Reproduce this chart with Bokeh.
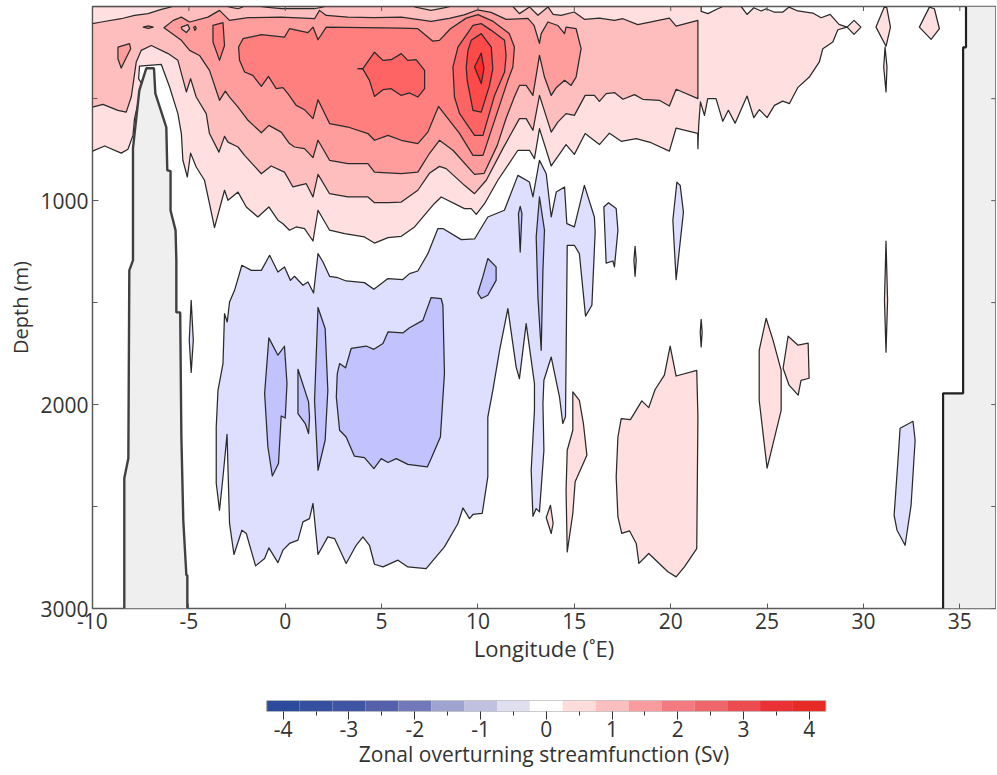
from bokeh.plotting import figure
from bokeh.layouts import column
from bokeh.models import Range1d, FixedTicker, Title
from bokeh.embed import file_html
from bokeh.resources import INLINE

# Contours of the zonal overturning streamfunction: (longitude E, depth m)
pos1_main = [(-10,48),(21.58,48),(21.58,72),(21.93,83),(22.44,59),(22.72,48),(23.65,48),(23.96,87),(24.31,54),(24.69,70),(24.95,59),(25.36,75),(25.82,75),(26.14,51),(26.59,70),(27.37,80),(27.80,103),(28.27,87),(28.73,136),(29.15,149),(28.67,162),(28.41,222),(27.89,255),(27.71,320),(27.19,394),(26.59,446),(26.16,524),(25.81,512),(25.38,533),(25.0,593),(24.60,554),(24.31,593),(23.96,487),(23.34,620),(22.99,557),(22.70,611),(22.35,500),(21.92,500),(21.75,582),(21.54,516),(21.45,631),(21.41,745),(21.40,670),(20.28,644),(19.93,757),(18.98,716),(18.21,696),(17.43,709),(16.82,669),(16.30,725),(15.56,671),(15.0,773),(14.57,725),(13.80,830),(13.19,647),(12.93,794),(12.67,753),(12.07,753),(11.03,900),(10.34,1015),(9.91,1067),(9.65,1039),(9.30,1039),(8.09,982),(7.73,1015),(6.71,1129),(6.02,1175),(5.33,1181),(4.63,1208),(4.11,1178),(3.08,1162),(2.30,1145),(1.70,1047),(1.44,1198),(1.0,1137),(0.57,1129),(0.22,1145),(-0.12,1113),(-0.38,1096),(-0.85,1031),(-1.42,1080),(-2.02,1031),(-2.45,958),(-2.97,998),(-3.15,949),(-3.67,1132),(-3.93,1015),(-4.19,900),(-4.62,835),(-4.91,767),(-5.08,884),(-5.31,802),(-5.39,671),(-5.57,573),(-6.0,443),(-6.43,332),(-7.56,340),(-7.61,402),(-7.42,430),(-7.82,598),(-7.90,680),(-8.16,748),(-8.51,767),(-9.37,732),(-10,757)]
pos1_diamond = [(29.15,149),(29.51,116),(29.87,149),(29.51,185)]
pos1_spike_a = [(31.08,51),(30.65,149),(31.17,243),(31.40,149),(31.21,54)]
pos1_spike_b = [(31.12,247),(31.05,345),(31.17,467),(31.22,345)]
pos1_top_e = [(33.42,51),(32.90,149),(33.51,209),(33.94,157),(33.68,59)]
pos1_deep_e = [(31.17,1199),(31.09,1489),(31.17,1743),(31.25,1489)]
pos1_m = [(14.92,1938),(15.15,1966),(15.26,1979),(15.47,2093),(15.65,2248),(15.04,2379),(14.92,2534),(14.63,2722),(14.57,2420),(14.63,2224),(14.92,2126)]
pos1_n = [(17.43,2069),(17.91,2074),(18.50,1982),(18.86,2015),(19.19,1926),(19.67,1856),(19.97,1713),(20.28,1860),(21.35,1832),(21.41,2061),(21.35,2706),(20.71,2796),(20.28,2845),(19.85,2820),(18.86,2730),(18.35,2779),(18.21,2681),(17.86,2619),(17.46,2632),(17.26,2551),(17.17,2355),(17.26,2159)]
pos1_o = [(13.76,2494),(13.90,2582),(13.80,2632),(13.54,2554)]
pos1_p = [(24.95,1577),(25.31,1685),(25.73,1832),(25.73,2028),(25.0,2312),(24.59,1979),(24.59,1734)]
pos1_q = [(26.09,1665),(26.61,1709),(27.13,1699),(27.18,1871),(26.76,1881),(26.61,1954),(26.14,1905),(25.83,1822)]

pos2_main = [(-10,132),(-9.54,124),(-8.51,108),(-7.82,92),(-7.12,83),(-6.43,62),(-5.81,48),(-3.06,48),(-2.45,59),(-2.13,48),(-1.42,48),(-0.21,59),(1.50,59),(2.13,48),(6.59,48),(7.57,67),(8.61,48),(11.81,48),(12.15,83),(12.67,50),(13.11,91),(13.63,50),(13.90,87),(14.31,92),(14.99,75),(15.52,111),(16.30,105),(17.08,116),(17.52,108),(18.29,137),(19.93,105),(20.28,144),(21.41,116),(21.41,500),(20.28,454),(19.93,536),(19.41,508),(18.55,503),(18.12,480),(17.52,503),(17.08,470),(16.65,475),(16.30,513),(16.04,484),(15.56,484),(15.0,582),(14.57,573),(14.14,615),(13.80,664),(13.19,484),(12.85,655),(12.50,598),(12.15,598),(11.29,745),(10.43,900),(9.82,966),(9.30,925),(8.35,843),(8.0,832),(7.48,866),(6.88,949),(6.02,1007),(5.33,1010),(4.63,1010),(4.29,982),(3.25,982),(2.30,966),(1.70,871),(1.44,982),(1.09,917),(0.40,933),(-0.04,860),(-0.73,830),(-1.24,868),(-2.11,778),(-2.45,737),(-2.97,713),(-3.15,685),(-3.44,762),(-3.93,671),(-4.10,573),(-4.62,492),(-4.91,402),(-5.13,467),(-5.57,312),(-6.08,279),(-6.95,239),(-7.47,263),(-7.73,320),(-7.99,492),(-8.25,566),(-8.68,557),(-9.46,528),(-10,541)]

pos3_main = [(-6.29,152),(-5.81,116),(-5.39,100),(-4.96,124),(-4.01,100),(-3.41,67),(-2.89,116),(-1.93,103),(-0.21,100),(1.52,108),(1.78,67),(2.13,92),(3.25,100),(4.62,103),(6.02,100),(7.57,121),(8.51,106),(9.28,89),(9.96,65),(10.68,77),(11.46,111),(12.59,106),(12.91,141),(13.19,229),(13.28,181),(13.63,124),(14.14,141),(14.49,181),(14.57,149),(15.09,157),(15.35,255),(15.09,394),(14.83,435),(14.49,410),(14.06,446),(13.80,484),(13.45,394),(13.19,288),(12.85,484),(12.50,435),(12.15,435),(11.88,493),(11.46,596),(11.0,729),(10.32,866),(9.82,871),(8.70,753),(8.0,704),(7.48,769),(6.88,860),(6.02,868),(4.63,860),(4.29,818),(3.25,818),(2.30,802),(1.70,704),(1.44,789),(1.0,745),(0.48,737),(0.22,720),(-0.21,664),(-0.85,631),(-1.24,667),(-1.93,606),(-2.45,541),(-2.89,492),(-3.11,463),(-3.41,508),(-3.93,361),(-4.45,288),(-4.96,263),(-5.39,214)]
pos3_west = [(-8.68,247),(-8.08,230),(-8.02,255),(-8.51,350),(-8.68,304)]
pos3_dash = [(-7.37,149),(-7.11,143),(-6.85,149),(-7.11,155)]
pos2_ring = [(-5.39,149),(-5.05,137),(-4.96,157),(-5.13,176),(-5.36,160)]
pos2_dot = [(-4.75,150),(-4.67,145),(-4.62,155),(-4.69,165)]

pos4_main = [(-2.42,247),(-2.19,206),(-1.24,186),(-0.04,198),(0.22,157),(1.18,176),(1.44,149),(1.70,211),(2.13,149),(6.02,154),(6.88,157),(7.66,218),(8.0,214),(8.57,157),(9.39,105),(10.0,88),(10.79,121),(11.62,180),(11.89,247),(11.81,345),(11.55,410),(10.26,778),(9.74,778),(9.04,670),(7.95,538),(7.40,664),(6.88,720),(6.02,704),(5.33,680),(4.63,704),(4.29,671),(3.25,639),(2.30,622),(1.70,505),(1.44,598),(1.0,554),(0.57,533),(0.14,475),(-0.12,446),(-0.47,451),(-0.87,391),(-1.24,440),(-1.68,386),(-2.11,369),(-2.37,312)]
pos4_west = [(-3.75,141),(-3.23,127),(-3.15,239),(-3.41,312),(-3.75,222)]

pos5_blob = [(3.77,353),(4.03,353),(4.63,272),(5.07,312),(5.50,309),(6.02,279),(6.36,312),(6.79,309),(7.23,361),(7.23,451),(6.88,492),(6.45,472),(6.02,484),(5.50,451),(5.07,456),(4.63,489),(4.37,410),(4.03,355)]
pos5_core = [(9.74,141),(10.17,132),(10.69,165),(11.38,214),(11.46,288),(11.38,369),(10.86,484),(10.26,680),(9.82,680),(9.04,572),(8.78,492),(8.70,345),(8.96,247)]
pos6_core = [(9.65,214),(10.17,181),(10.69,247),(10.77,353),(10.60,435),(10.17,566),(9.74,557),(9.44,410),(9.39,345),(9.48,263)]
pos7_core = [(10.17,276),(10.31,353),(10.17,426),(9.82,345)]

neg1_main = [(-3.41,2518),(-3.58,2386),(-3.58,2110),(-3.49,1930),(-3.23,1799),(-3.15,1554),(-3.01,1595),(-2.89,1497),(-2.63,1440),(-2.25,1317),(-1.76,1342),(-1.24,1342),(-0.81,1268),(-0.38,1350),(-0.04,1325),(0.27,1391),(0.48,1371),(0.92,1415),(1.18,1399),(1.47,1453),(1.70,1260),(1.96,1301),(2.30,1371),(2.73,1378),(3.16,1394),(4.11,1402),(4.60,1435),(5.33,1382),(6.10,1387),(6.45,1358),(6.88,1345),(7.40,1260),(7.92,1137),(8.18,1137),(9.13,1191),(9.82,1188),(10.51,1080),(11.37,1047),(12.07,876),(12.67,909),(12.85,982),(13.19,802),(13.54,868),(13.80,1080),(14.06,958),(14.49,933),(14.61,1113),(15.0,1129),(15.52,925),(16.04,1080),(16.08,1154),(15.91,1513),(15.58,1566),(15.26,1260),(15.0,1219),(14.63,1219),(14.54,2060),(14.40,2093),(14.23,1963),(13.80,1767),(13.42,1881),(13.37,1995),(13.42,2224),(13.19,2526),(13.02,2510),(12.85,2548),(12.76,2322),(12.93,2028),(12.93,1897),(12.50,1603),(12.15,1873),(11.98,1816),(11.55,1529),(11.12,1734),(10.77,1930),(10.51,2061),(10.51,2355),(10.22,2534),(9.74,2539),(9.56,2559),(9.22,2507),(8.96,2583),(8.26,2698),(7.31,2804),(6.36,2796),(5.85,2763),(5.07,2796),(4.63,2783),(4.37,2690),(4.03,2649),(3.68,2690),(3.16,2779),(2.56,2657),(2.21,2649),(1.70,2735),(1.44,2485),(1.26,2559),(0.92,2575),(0.66,2665),(0.22,2681),(-0.12,2714),(-0.38,2775),(-0.85,2703),(-1.07,2755),(-1.54,2791),(-2.02,2632),(-2.25,2616),(-2.66,2735),(-2.89,2583),(-3.02,2146),(-3.23,2355)]
neg1_h = [(16.77,1010),(17.17,1039),(17.26,1145),(17.08,1325),(17.0,1296),(16.65,1306),(16.53,1031)]
neg1_i = [(20.32,909),(20.49,925),(20.66,1056),(20.28,1387),(20.11,1096)]
neg1_j = [(18.15,1224),(18.21,1293),(18.15,1371),(18.09,1293)]
neg1_k = [(21.58,1582),(21.63,1645),(21.58,1718),(21.53,1645)]
neg1_l = [(-4.88,1489),(-4.77,1685),(-4.88,1842),(-4.98,1685)]
neg1_deep = [(31.90,2116),(32.57,2082),(32.68,2175),(32.47,2494),(32.16,2690),(31.74,2616),(31.59,2543),(31.79,2273)]

neg2_a = [(-0.85,1673),(-0.38,1758),(-0.04,1714),(0.09,1897),(0,2066),(-0.21,2056),(-0.35,2289),(-0.67,2350),(-0.90,2208),(-1.07,1946)]
neg2_b = [(0.66,1827),(1.21,1987),(1.26,2061),(1.21,2142),(1.04,2093),(0.66,2044)]
neg2_c = [(1.70,1524),(2.07,1627),(2.21,1930),(2.07,2175),(1.70,2322),(1.52,1979)]
neg2_d = [(2.82,1799),(3.13,1820),(3.42,1725),(4.20,1713),(4.60,1729),(5.07,1701),(5.33,1644),(6.10,1649),(6.45,1623),(7.14,1587),(7.57,1475),(8.09,1480),(8.18,1513),(8.26,1848),(8.05,2159),(7.57,2265),(7.37,2306),(6.36,2293),(5.76,2265),(5.33,2284),(4.98,2265),(4.60,2314),(4.11,2260),(3.59,2253),(3.16,2159),(2.82,2126),(2.65,1963),(2.70,1848)]
neg2_e = [(10.51,1284),(10.94,1325),(10.94,1391),(10.51,1464),(10.17,1480),(9.99,1453),(10.25,1374)]
neg2_f = [(13.19,982),(13.45,1145),(13.37,1342),(13.28,1734),(13.11,1473),(13.02,1178)]
neg2_g = [(12.19,1028),(12.28,1064),(12.19,1252),(12.10,1064)]

land_west = [(-8.35,3000),(-8.35,2361),(-8.14,2263),(-8.09,1342),(-7.90,1293),(-7.90,744),(-7.57,459),(-7.21,351),(-6.81,351),(-6.74,474),(-6.17,641),(-6.12,851),(-5.95,855),(-5.95,1048),(-5.69,1146),(-5.65,1293),(-5.65,1548),(-5.45,1548),(-5.39,2150),(-5.29,2567),(-5.13,2837),(-5.08,2837),(-5.08,3000)]
land_east = [(35.32,48),(35.32,248),(35.17,248),(35.17,1945),(34.13,1945),(34.13,3000)]
land_east_closure = [(36.85,3000),(36.85,48)]

x_ticks = [-10,-5,0,5,10,15,20,25,30,35]
y_ticks = [1000,2000,3000]
y_minor = [500,1500,2500]
all_y = sorted(y_ticks + y_minor)

cbar_levels = [-4,-3.5,-3,-2.5,-2,-1.5,-1,-0.5,0,0.5,1,1.5,2,2.5,3,3.5,4]
cbar_colors = ["#2B4A9C","#34509F","#3F54A3","#5560AB","#7179B8","#9FA3D0","#C0C1E0","#DFDFF0","#FFFFFF","#FDDCDC","#FBBFC0","#F89CA0","#F37A80","#EF666A","#EC4B4F","#E93235","#E62A25"]
cbar_ticks = [-4,-3,-2,-1,0,1,2,3,4]
cbar_minor = [-3.5,-2.5,-1.5,-0.5,0.5,1.5,2.5,3.5]

layers = [
    ("#DEDEFF", [neg1_main,neg1_h,neg1_i,neg1_j,neg1_k,neg1_l,neg1_deep]),
    ("#C2C2FF", [neg2_a,neg2_b,neg2_c,neg2_d,neg2_e,neg2_f,neg2_g]),
    ("#FFDFE0", [pos1_main,pos1_diamond,pos1_spike_a,pos1_spike_b,pos1_top_e,pos1_deep_e,pos1_m,pos1_n,pos1_o,pos1_p,pos1_q]),
    ("#FFBEBE", [pos2_main]),
    ("#FF9C9C", [pos3_main,pos3_west,pos3_dash]),
    ("#FFBEBE", [pos2_ring,pos2_dot]),
    ("#FF7F7F", [pos4_main,pos4_west]),
    ("#FF6464", [pos5_blob,pos5_core]),
    ("#FF4A4A", [pos6_core]),
    ("#FF2A2A", [pos7_core]),
]

FONT = "Open Sans"
TEXT = "#333333"
FRAME = "#5a5a5a"
LEFT = 91
X_RANGE = (-10, 36.85)
Y_RANGE = (3000, 48)

p = figure(width=996, height=686, output_backend="svg", toolbar_location=None,
           x_range=Range1d(*X_RANGE), y_range=Range1d(*Y_RANGE),
           min_border_left=LEFT, min_border_right=1, min_border_top=6, min_border_bottom=78,
           x_axis_label="Longitude (˚E)")
p.grid.visible = False
p.outline_line_color = FRAME
p.outline_line_width = 1.5

for color, polys in layers:
    p.patches([[pt[0] for pt in poly] for poly in polys],
              [[pt[1] for pt in poly] for poly in polys],
              fill_color=color, line_color="#2a2a2a", line_width=1.25, line_join="round")

p.patch([pt[0] for pt in land_west], [pt[1] for pt in land_west], fill_color="#EFEFEF", line_color=None)
p.line([pt[0] for pt in land_west], [pt[1] for pt in land_west], line_color="#404040", line_width=2.4)
east = land_east + land_east_closure
p.patch([pt[0] for pt in east], [pt[1] for pt in east], fill_color="#EFEFEF", line_color=None)
p.line([pt[0] for pt in land_east], [pt[1] for pt in land_east], line_color="#202020", line_width=2.2)

# mirrored ticks on the top and right sides of the box
p.segment(x0=x_ticks, x1=x_ticks, y0=[Y_RANGE[1]]*len(x_ticks), y1=[Y_RANGE[1]+22]*len(x_ticks),
          line_color=FRAME, line_width=1)
p.segment(x0=[X_RANGE[1]]*len(all_y), x1=[X_RANGE[1]-0.22]*len(all_y), y0=all_y, y1=all_y,
          line_color=FRAME, line_width=1)

ax = p.xaxis[0]
ax.ticker = FixedTicker(ticks=x_ticks)
ax.major_label_overrides = {t: str(t) for t in x_ticks}
ax.axis_line_color = None
ax.major_tick_in = 5; ax.major_tick_out = 0; ax.minor_tick_out = 0; ax.minor_tick_in = 0
ax.major_tick_line_color = FRAME
ax.major_label_text_font = FONT; ax.major_label_text_font_size = "21px"
ax.major_label_text_color = TEXT; ax.major_label_standoff = 4
ax.axis_label_text_font = FONT; ax.axis_label_text_font_size = "22px"
ax.axis_label_text_font_style = "normal"; ax.axis_label_text_color = TEXT
ax.axis_label_standoff = 1

ay = p.yaxis[0]
ay.ticker = FixedTicker(ticks=y_ticks, minor_ticks=y_minor)
ay.axis_line_color = None
ay.major_tick_in = 6; ay.major_tick_out = 0; ay.minor_tick_out = 0; ay.minor_tick_in = 5
ay.major_tick_line_color = FRAME; ay.minor_tick_line_color = FRAME
ay.major_label_text_font = FONT; ay.major_label_text_font_size = "21px"
ay.major_label_text_color = TEXT; ay.major_label_standoff = 4

p.add_layout(Title(text="Depth (m)", align="center", offset=-11, standoff=8,
                   text_font=FONT, text_font_size="20px", text_color=TEXT, text_font_style="normal"), "left")

# colour bar: shares the main figure's left and right borders; range set so 0 falls at 545 px
cb = figure(width=996, height=86, output_backend="svg", toolbar_location=None,
            x_range=Range1d(-6.90, 6.83), y_range=Range1d(0, 1),
            min_border_left=LEFT, min_border_right=1, min_border_top=14, min_border_bottom=61,
            x_axis_label="Zonal overturning streamfunction (Sv)")
cb.grid.visible = False
cb.yaxis.visible = False
cb.outline_line_color = None
cb.vbar(x=cbar_levels, width=0.5, bottom=0, top=1, fill_color=cbar_colors, line_color=None)
cb.quad(left=[cbar_levels[0]-0.25], right=[cbar_levels[-1]+0.25], bottom=[0], top=[1],
        fill_color=None, line_color="#9a9a9a", line_width=1)
cx = cb.xaxis[0]
cx.ticker = FixedTicker(ticks=cbar_ticks, minor_ticks=cbar_minor)
cx.major_label_overrides = {t: str(t) for t in cbar_ticks}
cx.axis_line_color = None
cx.major_tick_in = 0; cx.major_tick_out = 8; cx.minor_tick_in = 0; cx.minor_tick_out = 4
cx.major_tick_line_color = "#333333"; cx.minor_tick_line_color = "#333333"
cx.major_label_text_font = FONT; cx.major_label_text_font_size = "21px"
cx.major_label_text_color = TEXT; cx.major_label_standoff = 1
cx.axis_label_text_font = FONT; cx.axis_label_text_font_size = "21px"
cx.axis_label_text_font_style = "normal"; cx.axis_label_text_color = TEXT
cx.axis_label_standoff = 0

layout = column(p, cb, spacing=0)
open("out.html", "w").write(file_html(layout, INLINE))
